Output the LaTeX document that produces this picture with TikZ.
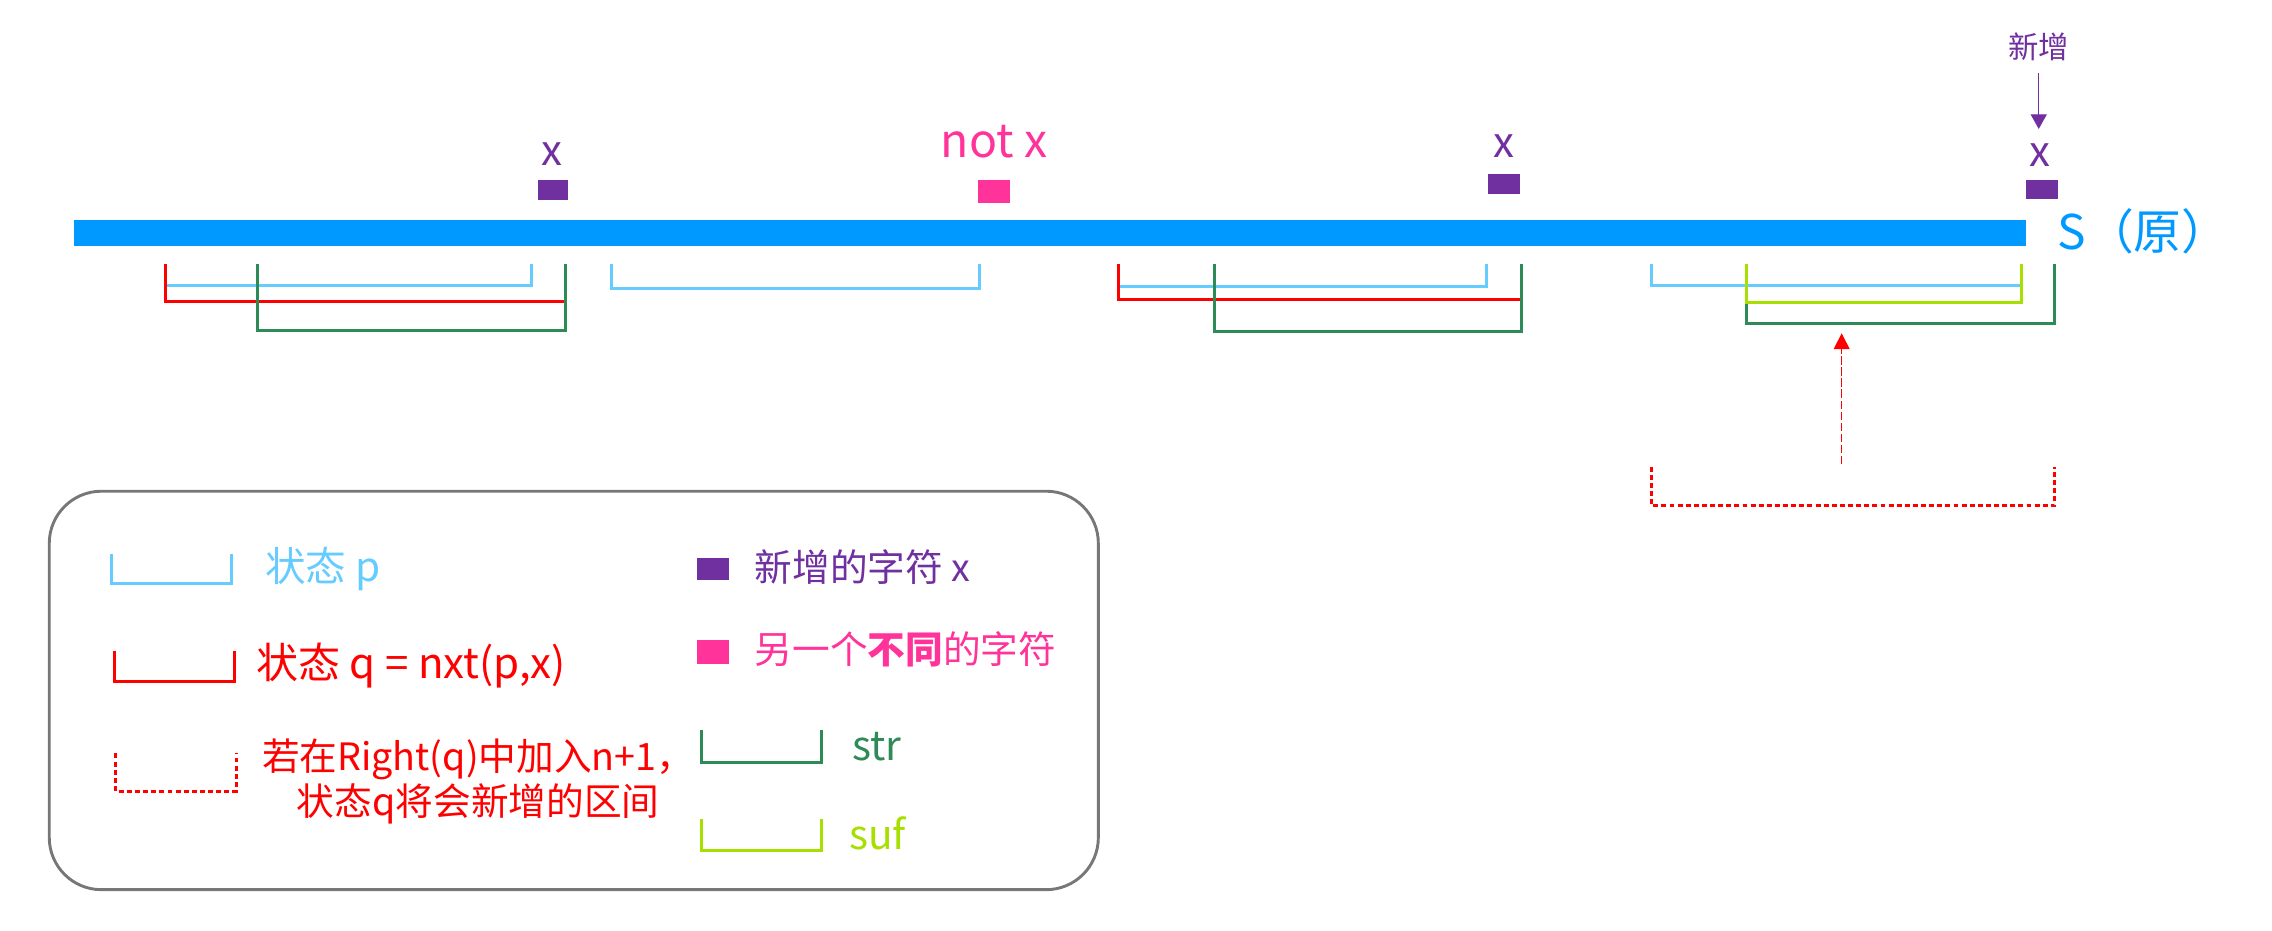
\documentclass[tikz,border=0pt]{standalone}
\usepackage{fontspec}
\setmainfont{Noto Sans CJK SC}
\usetikzlibrary{arrows.meta}
\definecolor{barblue}{HTML}{0099FF}
\definecolor{pblue}{HTML}{66CCFF}
\definecolor{qred}{HTML}{FF0000}
\definecolor{strgreen}{HTML}{2E8B57}
\definecolor{suflime}{HTML}{A6DF00}
\definecolor{xpurple}{HTML}{7030A0}
\definecolor{xpink}{HTML}{FF3399}
\definecolor{boxgray}{HTML}{777777}
\newcommand\mybracket[5]{\draw[#1] (#2,#4) -- (#2,#5) -- (#3,#5) -- (#3,#4);}
\begin{document}
\begin{tikzpicture}[x=0.5pt,y=-0.5pt,
  txt/.style={inner sep=0pt, outer sep=0pt},
  bp/.style={pblue, line width=1.05pt},
  bq/.style={qred, line width=1.05pt},
  bstr/.style={strgreen, line width=1.05pt},
  bsuf/.style={suflime, line width=1.05pt},
  bnew/.style={qred, line width=1.05pt, dash pattern=on 1.7pt off 1.1pt},
  sqx/.style={fill=xpurple},
  sqn/.style={fill=xpink},
  parrow/.style={xpurple, line width=0.35pt, -{Triangle[width=5.5pt,length=5pt]}},
  rarrow/.style={qred, line width=0.4pt, dash pattern=on 2.8pt off 1pt, -{Triangle[width=5.5pt,length=5.5pt]}}
]
\useasboundingbox (0,0) rectangle (1568,642);

% main string
\fill[barblue] (51,152) rectangle (1398,170);
\node[txt, anchor=base west, text=barblue, font=\fontsize{16.5}{19}\selectfont] (S) at (1420,172) {S（原）};

% characters above
\fill[sqx] (371,124) rectangle (392,138);
\fill[sqn] (675,124) rectangle (697,140);
\fill[sqx] (1027,120) rectangle (1049,134);
\fill[sqx] (1398,124) rectangle (1420,137);
\node[txt, anchor=base, text=xpurple, font=\fontsize{14.5}{17}\selectfont] (x1) at (381,114) {x};
\node[txt, anchor=base, text=xpink, font=\fontsize{16}{19}\selectfont] (nx) at (686,109) {not x};
\node[txt, anchor=base, text=xpurple, font=\fontsize{14.5}{17}\selectfont] (x3) at (1038,108.5) {x};
\node[txt, anchor=base, text=xpurple, font=\fontsize{14.5}{17}\selectfont] (x4) at (1408,115) {x};
\node[txt, anchor=base, text=xpurple, font=\fontsize{10.5}{13}\selectfont] (xin) at (1407,40.5) {新增};
\coordinate (xtip) at (1407,89);
\draw[parrow, shorten <=4pt] (xin.south) -- (xtip);

% group 1
\mybracket{bp}{114}{367}{182}{197}
\mybracket{bq}{114}{390}{182}{208}
\mybracket{bstr}{178}{390}{182}{228}
\mybracket{bp}{422}{676}{182}{199}
% group 2
\mybracket{bp}{772}{1026}{182}{198}
\mybracket{bq}{772}{1050}{182}{207}
\mybracket{bstr}{838}{1050}{182}{229}
% group 3
\mybracket{bp}{1140}{1395}{182}{197}
\mybracket{bstr}{1205}{1418}{182}{223}
\mybracket{bsuf}{1205}{1395}{182}{209}

% new interval and arrow
\mybracket{bnew}{1140}{1418}{322}{349}
\coordinate (dtop) at (1271,320);
\coordinate (gtip) at (1271,230);
\draw[rarrow] (dtop) -- (gtip);

% legend
\draw[boxgray, line width=1pt, rounded corners=18pt] (34,339) rectangle (758,614);

\mybracket{bp}{77}{160}{382}{403}
\node[txt, anchor=base west, text=pblue, font=\fontsize{14}{17}\selectfont] (lp) at (183,401) {状态 p};

\mybracket{bq}{79}{162}{449}{470}
\node[txt, anchor=base west, text=qred, font=\fontsize{14.5}{17}\selectfont] (lq) at (177,468) {状态 q = nxt(p,x)};

\mybracket{bnew}{80}{163}{520}{546}
\node[txt, anchor=base, text=qred, align=center, font=\fontsize{13}{15.5}\selectfont] (ln) at (330,563) {若在Right(q)中加入n+1，\\状态q将会新增的区间};

\fill[sqx] (481,385) rectangle (503,400);
\node[txt, anchor=base west, text=xpurple, font=\fontsize{13}{16}\selectfont] (lx) at (521,401) {新增的字符 x};

\fill[sqn] (481,442) rectangle (503,458);
\node[txt, anchor=base west, text=xpink, font=\fontsize{13}{16}\selectfont] (lnx) at (521,458) {另一个\textbf{不同}的字符};

\mybracket{bstr}{484}{567}{504}{526}
\node[txt, anchor=base west, text=strgreen, font=\fontsize{14}{17}\selectfont] (lstr) at (588,525) {str};

\mybracket{bsuf}{484}{567}{565}{587}
\node[txt, anchor=base west, text=suflime, font=\fontsize{14}{17}\selectfont] (lsuf) at (586,586.5) {suf};
\end{tikzpicture}
\end{document}
